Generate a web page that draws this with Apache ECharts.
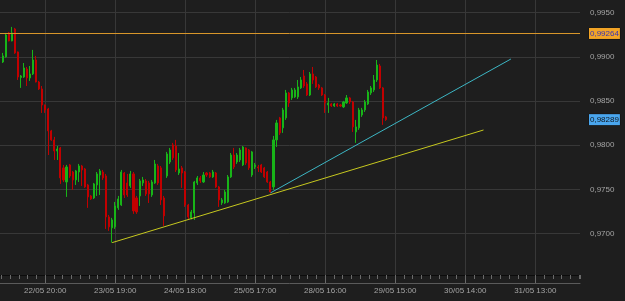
<!DOCTYPE html>
<html>
<head>
<meta charset="utf-8">
<script src="https://cdn.jsdelivr.net/npm/echarts@6/dist/echarts.min.js"></script>
<style>
html,body{margin:0;padding:0;background:#1e1e1e;}
#c{width:625px;height:301px;}
</style>
</head>
<body>
<div id="c"></div>
<script>
// H1 candles: [open, close, low, high]
const candles = [
[0.98941,0.99010,0.98930,0.99044],[0.98999,0.99247,0.98990,0.99270],[0.99270,0.99180,0.99175,0.99281],[0.99180,0.99270,0.99175,0.99338],
[0.99315,0.99044,0.99033,0.99327],[0.99055,0.98772,0.98738,0.99060],[0.98766,0.98783,0.98648,0.98794],[0.98772,0.98874,0.98761,0.98930],
[0.98862,0.98761,0.98670,0.98885],[0.98761,0.98806,0.98727,0.98896],[0.98806,0.98964,0.98794,0.99078],[0.98964,0.98715,0.98710,0.99010],
[0.98715,0.98636,0.98625,0.98727],[0.98636,0.98455,0.98365,0.98670],[0.98455,0.98399,0.98365,0.98460],[0.98410,0.98162,0.97889,0.98422],
[0.98162,0.98060,0.98049,0.98173],[0.98060,0.97935,0.97833,0.98094],[0.97935,0.97957,0.97833,0.97991],[0.97969,0.97630,0.97562,0.97980],
[0.97743,0.97607,0.97584,0.97777],[0.97584,0.97754,0.97415,0.97777],[0.97777,0.97652,0.97630,0.97788],[0.97697,0.97607,0.97494,0.97709],
[0.97607,0.97709,0.97550,0.97720],[0.97697,0.97765,0.97584,0.97788],[0.97765,0.97720,0.97539,0.97777],[0.97731,0.97528,0.97517,0.97743],
[0.97550,0.97415,0.97291,0.97562],[0.97426,0.97392,0.97381,0.97437],[0.97403,0.97562,0.97392,0.97573],[0.97550,0.97675,0.97426,0.97697],
[0.97663,0.97709,0.97437,0.97731],[0.97697,0.97630,0.97607,0.97720],[0.97652,0.97189,0.97053,0.97675],[0.97189,0.97076,0.97031,0.97211],
[0.97065,0.97155,0.96898,0.97178],[0.97076,0.97313,0.97053,0.97358],[0.97291,0.97392,0.97268,0.97426],[0.97324,0.97697,0.97313,0.97720],
[0.97686,0.97437,0.97403,0.97697],[0.97573,0.97437,0.97415,0.97675],[0.97539,0.97675,0.97517,0.97709],[0.97675,0.97257,0.97223,0.97697],
[0.97403,0.97245,0.97223,0.97426],[0.97426,0.97596,0.97313,0.97618],[0.97573,0.97607,0.97539,0.97641],[0.97596,0.97449,0.97426,0.97618],
[0.97573,0.97449,0.97347,0.97596],[0.97437,0.97584,0.97415,0.97607],[0.97573,0.97788,0.97562,0.97833],[0.97765,0.97573,0.97550,0.97788],
[0.97743,0.97381,0.97324,0.97765],[0.97403,0.97200,0.97087,0.97426],[0.97652,0.97901,0.97630,0.97924],[0.97810,0.97946,0.97788,0.97969],
[0.98003,0.97856,0.97833,0.98026],[0.97991,0.97720,0.97697,0.98060],[0.97686,0.97731,0.97663,0.97912],[0.97743,0.97686,0.97517,0.97765],
[0.97697,0.97324,0.97302,0.97709],[0.97324,0.97189,0.97166,0.97336],[0.97178,0.97245,0.97160,0.97268],[0.97234,0.97584,0.97155,0.97596],
[0.97573,0.97630,0.97550,0.97652],[0.97630,0.97596,0.97573,0.97652],[0.97584,0.97663,0.97573,0.97697],[0.97686,0.97663,0.97641,0.97697],
[0.97686,0.97641,0.97630,0.97697],[0.97641,0.97697,0.97630,0.97720],[0.97686,0.97528,0.97517,0.97697],[0.97528,0.97381,0.97302,0.97539],
[0.97347,0.97381,0.97324,0.97403],[0.97347,0.97471,0.97336,0.97494],[0.97358,0.97641,0.97347,0.97663],[0.97641,0.97889,0.97630,0.97912],
[0.97889,0.97754,0.97731,0.97969],[0.97810,0.97889,0.97788,0.97912],[0.97833,0.97946,0.97810,0.97969],[0.97777,0.97980,0.97765,0.97991],
[0.97969,0.97799,0.97777,0.97975],[0.97946,0.97743,0.97720,0.97957],[0.97663,0.97924,0.97641,0.97935],[0.97754,0.97777,0.97731,0.97799],
[0.97754,0.97743,0.97697,0.97777],[0.97777,0.97697,0.97686,0.97788],[0.97743,0.97641,0.97630,0.97754],[0.97697,0.97584,0.97573,0.97709],
[0.97584,0.97471,0.97460,0.97596],[0.97528,0.98060,0.97494,0.98105],[0.98060,0.98252,0.97980,0.98286],[0.98309,0.98139,0.98116,0.98320],
[0.98196,0.98399,0.98139,0.98422],[0.98309,0.98591,0.98286,0.98625],[0.98591,0.98478,0.98433,0.98602],[0.98535,0.98625,0.98512,0.98648],
[0.98546,0.98625,0.98535,0.98648],[0.98546,0.98659,0.98523,0.98738],[0.98648,0.98738,0.98636,0.98772],[0.98783,0.98670,0.98648,0.98851],
[0.98693,0.98568,0.98557,0.98715],[0.98568,0.98806,0.98557,0.98828],[0.98806,0.98738,0.98693,0.98885],[0.98772,0.98659,0.98648,0.98783],
[0.98681,0.98648,0.98625,0.98693],[0.98648,0.98568,0.98557,0.98659],[0.98568,0.98478,0.98365,0.98580],[0.98455,0.98478,0.98365,0.98535],
[0.98467,0.98444,0.98433,0.98478],[0.98444,0.98467,0.98433,0.98478],[0.98467,0.98444,0.98433,0.98478],[0.98455,0.98444,0.98433,0.98467],
[0.98433,0.98489,0.98422,0.98501],[0.98478,0.98535,0.98467,0.98568],[0.98535,0.98489,0.98467,0.98546],[0.98489,0.98207,0.98150,0.98501],
[0.98150,0.98207,0.98026,0.98286],[0.98196,0.98399,0.98173,0.98422],[0.98342,0.98399,0.98320,0.98422],[0.98399,0.98489,0.98376,0.98512],
[0.98467,0.98602,0.98455,0.98625],[0.98591,0.98648,0.98568,0.98670],[0.98625,0.98738,0.98602,0.98794],[0.98738,0.98907,0.98715,0.98964],
[0.98896,0.98648,0.98636,0.98919],[0.98648,0.98309,0.98230,0.98659],[0.98320,0.98289,0.98275,0.98331]
];
const firstBar = 9;          // bar number of the first candle on the time axis
const barsPerLabel = 23;     // bars between time labels
const xTickLabels = ['22/05 20:00','23/05 19:00','24/05 18:00','25/05 17:00','28/05 16:00','29/05 15:00','30/05 14:00','31/05 13:00'];
const yellowTrend = [[45, 0.96898], [167, 0.98172]];
const cyanTrend = [[97, 0.97460], [176, 0.98975]];
const levelPrice = 0.99264;
const lastPrice = 0.98289;

const FONT = 'Liberation Sans';
const candleData = candles.map((c, i) => [firstBar + i, c[0], c[1], c[2], c[3]]);
const xMax = 198.7;

const chart = echarts.init(document.getElementById('c'), null, {renderer: 'canvas'});
chart.setOption({
  backgroundColor: '#1e1e1e',
  animation: false,
  grid: {left: -24.8, right: 45, top: -0.66, bottom: 23.2, containLabel: false, outerBoundsMode: 'none'},
  xAxis: [
    {
      type: 'value', min: 0, max: xMax, interval: barsPerLabel, offset: -2.8, position: 'bottom',
      axisLine: {show: true, lineStyle: {color: '#0c0c0c', width: 1}},
      axisTick: {show: true, length: 8, lineStyle: {color: '#6a6a6a'}},
      axisLabel: {
        show: true, margin: 12, color: '#a4a4a4', fontSize: 8, fontFamily: FONT,
        showMinLabel: false, showMaxLabel: false,
        formatter: v => {
          const k = Math.round(v / barsPerLabel);
          if (Math.abs(v - k * barsPerLabel) > 0.01) return '';
          return xTickLabels[k - 1] || '';
        }
      },
      splitLine: {show: true, showMinLine: false, showMaxLine: false, lineStyle: {color: '#383838', width: 1}}
    },
    {
      type: 'value', min: 0, max: xMax, interval: barsPerLabel / 8, offset: -2.8, position: 'bottom',
      axisLine: {show: false}, axisLabel: {show: false}, splitLine: {show: false},
      axisTick: {show: true, length: 4, lineStyle: {color: '#6a6a6a'}}
    },
    {
      type: 'value', min: 0, max: xMax, offset: 5.2, position: 'bottom',
      axisLine: {show: true, lineStyle: {color: '#5a5a5a'}},
      axisTick: {show: false}, axisLabel: {show: false}, splitLine: {show: false}
    }
  ],
  yAxis: [
    {
      type: 'value', position: 'right', min: 0.965, max: 0.9965, interval: 0.005, scale: true,
      axisLine: {show: true, lineStyle: {color: '#0c0c0c', width: 1}},
      axisTick: {show: true, length: 7, lineStyle: {color: '#6a6a6a'}},
      minorTick: {show: true, splitNumber: 6, length: 4, lineStyle: {color: '#6a6a6a'}},
      axisLabel: {
        show: true, margin: 10, color: '#a4a4a4', fontSize: 8, fontFamily: FONT,
        showMinLabel: false, showMaxLabel: false,
        formatter: v => v.toFixed(4).replace('.', ',')
      },
      splitLine: {show: true, showMinLine: false, showMaxLine: false, lineStyle: {color: '#383838', width: 1}}
    },
    {
      type: 'value', position: 'right', min: 0.965, max: 0.9965, offset: 8,
      axisLine: {show: true, lineStyle: {color: '#5a5a5a'}},
      axisTick: {show: false}, axisLabel: {show: false}, splitLine: {show: false}
    }
  ],
  series: [
    {
      type: 'candlestick', xAxisIndex: 0, yAxisIndex: 0,
      data: candleData, barWidth: 1.6,
      itemStyle: {color: '#18b418', color0: '#c20000', borderColor: '#18b418', borderColor0: '#c20000', borderWidth: 1}
    },
    {
      type: 'line', xAxisIndex: 0, yAxisIndex: 0, data: yellowTrend, symbol: 'none', clip: false,
      lineStyle: {color: '#c6c81e', width: 1}, silent: true,
      markLine: {
        silent: true, symbol: ['none', 'none'], animation: false, precision: 5,
        data: [
          {yAxis: levelPrice, lineStyle: {color: '#d8962a', width: 1, type: 'solid', opacity: 1},
           label: {show: true, position: 'end', distance: 9, formatter: () => levelPrice.toFixed(5).replace('.', ','),
             backgroundColor: '#f2a426', color: '#3a34b4', fontSize: 8, fontFamily: FONT, padding: [1, 1, 0, 1], lineHeight: 10,
             borderColor: '#111', borderWidth: 0.5}},
          {yAxis: lastPrice, lineStyle: {color: 'rgba(0,0,0,0)', width: 0, type: 'solid'},
           label: {show: true, position: 'end', distance: 9, formatter: () => lastPrice.toFixed(5).replace('.', ','),
             backgroundColor: '#4aa6ee', color: '#101820', fontSize: 8, fontFamily: FONT, padding: [1, 1, 0, 1], lineHeight: 10,
             borderColor: '#111', borderWidth: 0.5}}
        ]
      }
    },
    {
      type: 'line', xAxisIndex: 0, yAxisIndex: 0, data: cyanTrend, symbol: 'none',
      lineStyle: {color: '#3cb6c4', width: 1}, silent: true
    }
  ]
});
</script>
</body>
</html>
